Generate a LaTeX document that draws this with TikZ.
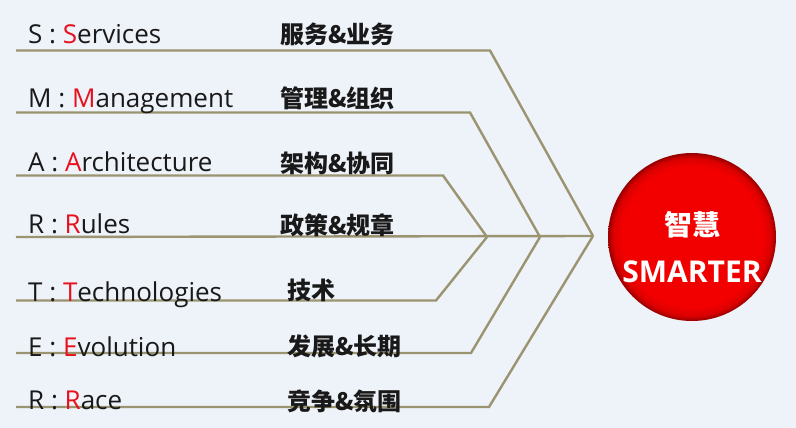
\documentclass[tikz,border=0pt]{standalone}
\usepackage{fontspec}
\setmainfont{Open Sans}
\newfontfamily\cjk{Noto Sans CJK SC}
\definecolor{bg}{HTML}{EEF2F9}
\definecolor{olive}{HTML}{9A9470}
\definecolor{redletter}{HTML}{E8101C}
\definecolor{ballred}{HTML}{F20000}
\pgfdeclareradialshading{ballrim}{\pgfpoint{0bp}{0bp}}{%
  color(0bp)=(ballred); color(21bp)=(ballred); color(23.5bp)=(ballred!90!black);
  color(25bp)=(ballred!62!black); color(50bp)=(ballred!62!black)}
\begin{document}
\begin{tikzpicture}[x=1pt,y=-1pt,
  conn/.style={draw=olive,line width=2.4pt,line join=miter},
  en/.style={anchor=base west,inner sep=0pt,font=\fontsize{26}{26}\selectfont,text=black!90},
  zh/.style={anchor=base west,inner sep=0pt,font=\cjk\bfseries\fontsize{24}{24}\selectfont,text=black!90},
  ball/.style={circle,minimum size=168pt,inner sep=0pt,shading=ballrim},
  balltext/.style={text=white,inner sep=0pt}]
\fill[bg] (0,0) rectangle (796,428);
\useasboundingbox (0,0) rectangle (796,428);
% hub points
\coordinate (h1) at (593,236);
\coordinate (h2) at (540,237);
\coordinate (h3) at (487,237);
% left ends
\coordinate (sL) at (16,50.5);   \coordinate (sC) at (490,50.5);
\coordinate (mL) at (16,112.5);  \coordinate (mC) at (470,112.5);
\coordinate (aL) at (16,175.5);  \coordinate (aC) at (443,175.5);
\coordinate (rL) at (16,237);
\coordinate (tL) at (16,300.5);  \coordinate (tC) at (436,300.5);
\coordinate (eL) at (16,353);    \coordinate (eC) at (471,353);
\coordinate (cL) at (16,407);    \coordinate (cC) at (489,407);
% connectors
\draw[conn] (sL) -- (sC) -- (h1);
\draw[conn] (mL) -- (mC) -- (h2);
\draw[conn] (aL) -- (aC) -- (h3);
\draw[conn] (rL) -- (h1);
\draw[conn] (tL) -- (tC) -- (h3);
\draw[conn] (eL) -- (eC) -- (h2);
\draw[conn] (cL) -- (cC) -- (h1);
% english labels
\node[en] (s) at (28,43.5) {S : \textcolor{redletter}{S}ervices};
\node[en] (m) at (28,108) {M : \textcolor{redletter}{M}anagement};
\node[en] (a) at (28,171) {A : \textcolor{redletter}{A}rchitecture};
\node[en] (r) at (28,233) {R : \textcolor{redletter}{R}ules};
\node[en] (t) at (28,301) {T : \textcolor{redletter}{T}echnologies};
\node[en] (e) at (28,356) {E : \textcolor{redletter}{E}volution};
\node[en] (c) at (28,409) {R : \textcolor{redletter}{R}ace};
% chinese labels
\node[zh] (sz) at (280,44) {服务\&业务};
\node[zh] (mz) at (280,107) {管理\&组织};
\node[zh] (az) at (280,172) {架构\&协同};
\node[zh] (rz) at (280,234) {政策\&规章};
\node[zh] (tz) at (287,299) {技术};
\node[zh] (ez) at (287,355.5) {发展\&长期};
\node[zh] (cz) at (287,410.5) {竞争\&氛围};
% ball
\node[ball] (ball) at (692,237) {};
\node[balltext,font=\cjk\bfseries\fontsize{28}{28}\selectfont] (bz) at (692,225) {智慧};
\node[balltext,font=\bfseries\fontsize{30}{30}\selectfont] (be) at (692,272) {SMARTER};
\end{tikzpicture}
\end{document}
